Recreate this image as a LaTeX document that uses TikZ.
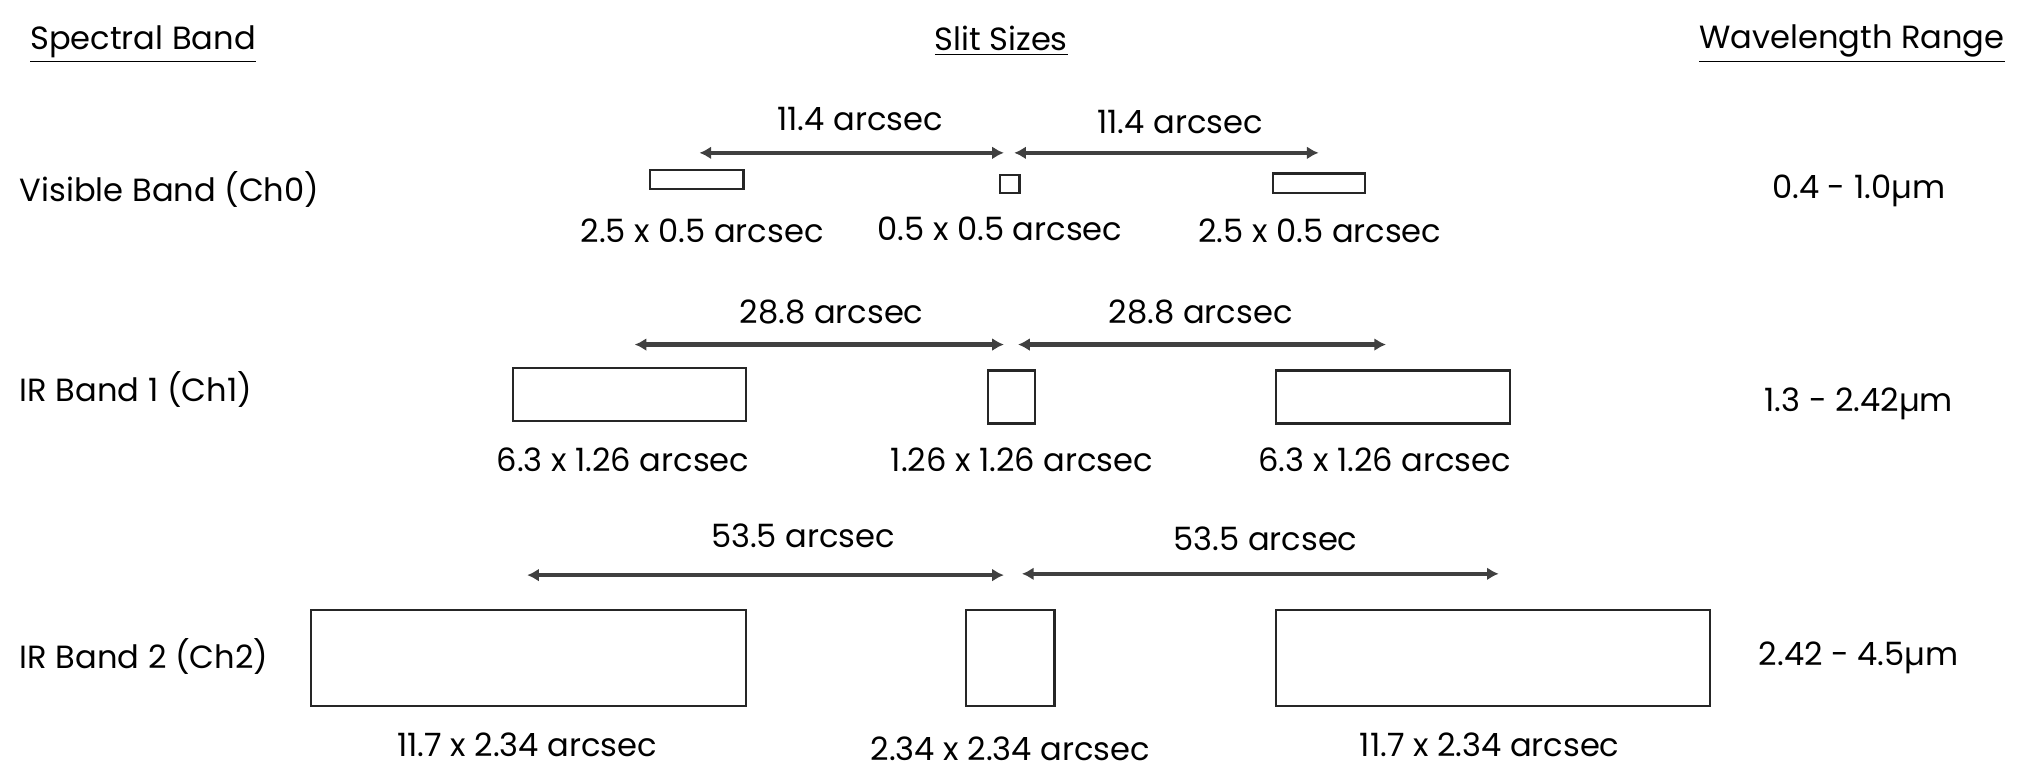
\documentclass[tikz,border=0pt]{standalone}
\usepackage{fontspec}
\setmainfont{Poppins}
\usetikzlibrary{arrows.meta,fit}
\begin{document}
\begin{tikzpicture}[x=0.5pt,y=-0.5pt,
  txt/.style={inner sep=0pt, font=\fontsize{12.4}{14}\selectfont},
  lbl/.style={txt, anchor=west},
  slit/.style={draw=black!85, line width=0.9pt, inner sep=0pt},
  span/.style={draw=black!75, line width=1.6pt, {Latex[length=4.5pt,width=5pt]}-{Latex[length=4.5pt,width=5pt]}}]
\useasboundingbox[fill=white] (0,0) rectangle (1568,605);
% headers
\node[lbl] (hband) at (23,34) {\underline{Spectral Band}};
\node[txt] (hslit) at (773,32) {\underline{Slit Sizes}};
\node[txt, anchor=east] (hwave) at (1548,34) {\underline{Wavelength Range}};
% band labels
\node[lbl] (b0) at (15,146) {Visible Band (Ch0)};
\node[lbl] (b1) at (15,301) {IR Band 1 (Ch1)};
\node[lbl] (b2) at (15,507) {IR Band 2 (Ch2)};
% wavelength ranges
\node[txt] (w0) at (1435,147) {0.4 - 1.0µm};
\node[txt] (w1) at (1435,312) {1.3 - 2.42µm};
\node[txt] (w2) at (1435,508) {2.42 - 4.5µm};
% ---- row 0
\node[slit, fit={(502,131) (574,146)}] (s0l) {};
\node[slit, fit={(772,135) (787,149)}] (s0c) {};
\node[slit, fit={(983,134) (1054,149)}] (s0r) {};
\node[txt] (t0l) at (542,178) {2.5 x 0.5 arcsec};
\node[txt] (t0c) at (772,177) {0.5 x 0.5 arcsec};
\node[txt] (t0r) at (1019,178) {2.5 x 0.5 arcsec};
\coordinate (a0a) at (540,118); \coordinate (a0b) at (775,118);
\coordinate (a0c) at (783,118); \coordinate (a0d) at (1018,118);
\draw[span] (a0a) -- (a0b);
\draw[span] (a0c) -- (a0d);
\node[txt] (d0l) at (664,92) {11.4 arcsec};
\node[txt] (d0r) at (911,94) {11.4 arcsec};
% ---- row 1
\node[slit, fit={(396,284) (576,325)}] (s1l) {};
\node[slit, fit={(763,286) (799,327)}] (s1c) {};
\node[slit, fit={(985,286) (1166,327)}] (s1r) {};
\node[txt] (t1l) at (481,355) {6.3 x 1.26 arcsec};
\node[txt] (t1c) at (789,355) {1.26 x 1.26 arcsec};
\node[txt] (t1r) at (1069,355) {6.3 x 1.26 arcsec};
\coordinate (a1a) at (490,266); \coordinate (a1b) at (775,266);
\coordinate (a1c) at (786,266); \coordinate (a1d) at (1070,266);
\draw[span] (a1a) -- (a1b);
\draw[span] (a1c) -- (a1d);
\node[txt] (d1l) at (642,241) {28.8 arcsec};
\node[txt] (d1r) at (927,241) {28.8 arcsec};
% ---- row 2
\node[slit, fit={(240,471) (576,545)}] (s2l) {};
\node[slit, fit={(746,471) (814,545)}] (s2c) {};
\node[slit, fit={(985,471) (1320,545)}] (s2r) {};
\node[txt] (t2l) at (407,575) {11.7 x 2.34 arcsec};
\node[txt] (t2c) at (780,578) {2.34 x 2.34 arcsec};
\node[txt] (t2r) at (1150,575) {11.7 x 2.34 arcsec};
\coordinate (a2a) at (407,444); \coordinate (a2b) at (775,444);
\coordinate (a2c) at (789,443); \coordinate (a2d) at (1157,443);
\draw[span] (a2a) -- (a2b);
\draw[span] (a2c) -- (a2d);
\node[txt] (d2l) at (620,414) {53.5 arcsec};
\node[txt] (d2r) at (977,416) {53.5 arcsec};
\end{tikzpicture}
\end{document}
